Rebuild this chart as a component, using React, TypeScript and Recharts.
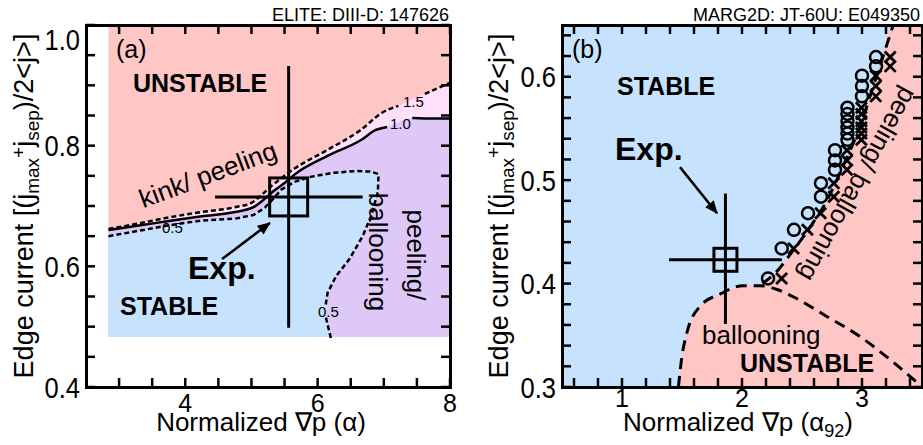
import React from 'react';
import {
  ComposedChart, Area, Line, Scatter, XAxis, YAxis, ErrorBar, ReferenceLine,
} from 'recharts';

const FONT = '"Liberation Sans", Arial, Helvetica, sans-serif';

// ---------- panel (a): ELITE, DIII-D 147626 ----------
const aXTicks = [3, 3.5, 4, 4.5, 5, 5.5, 6, 6.5, 7, 7.5, 8];
const aXLabels = [4, 6, 8];
const aYTicks = [0.4, 0.45, 0.5, 0.55, 0.6, 0.65, 0.7, 0.75, 0.8, 0.85, 0.9, 0.95, 1.0];
const aYLabels = [0.4, 0.6, 0.8, 1.0];

const aFloor = 0.483;
const aEdgeX = [2.84, 8.0];
const aEdgeTop = [1.0, 1.0];

// growth-rate contour 1.5 (dashed)
const c15X = [2.84, 3.25, 3.75, 4.25, 4.75, 5.0, 5.15, 5.3, 5.45, 5.65, 6.15, 6.65, 6.98, 7.22, 7.62, 8.0];
const c15Y = [0.662, 0.67, 0.681, 0.69, 0.698, 0.705, 0.718, 0.733, 0.746, 0.762, 0.793, 0.826, 0.855, 0.866, 0.886, 0.904];
const c15Gap = [7.22, 7.62];

// contour 1.0 (solid)
const c10X = [2.84, 3.25, 3.75, 4.25, 4.75, 5.03, 5.2, 5.35, 5.5, 5.65, 6.15, 6.65, 6.88, 7.05, 7.43, 7.75, 8.0];
const c10Y = [0.66, 0.667, 0.675, 0.683, 0.69, 0.698, 0.712, 0.726, 0.738, 0.752, 0.783, 0.809, 0.826, 0.831, 0.846, 0.845, 0.845];
const c10Gap = [7.05, 7.43];

// contour 0.5 (dashed) = stable boundary
const c05X = [2.84, 3.25, 3.75, 4.25, 4.75, 5.03, 5.2, 5.33, 5.45, 5.65, 5.88, 6.23, 6.58, 6.8, 6.92, 6.91, 6.81, 6.68, 6.48, 6.28, 6.15, 6.12, 6.125, 6.2];
const c05Y = [0.65, 0.658, 0.668, 0.676, 0.679, 0.685, 0.697, 0.712, 0.727, 0.74, 0.748, 0.755, 0.758, 0.757, 0.753, 0.723, 0.684, 0.65, 0.612, 0.584, 0.556, 0.535, 0.515, 0.481];
const c05Break = 22;

// stable region (blue)
const blueX = [2.84, 3.25, 3.75, 4.25, 4.75, 5.03, 5.2, 5.33, 5.45, 5.65, 5.88, 6.12, 6.15, 6.28, 6.48, 6.68, 6.81, 6.91, 6.925];
const blueHigh = [0.65, 0.658, 0.668, 0.676, 0.679, 0.685, 0.697, 0.712, 0.727, 0.74, 0.748, 0.753, 0.753, 0.755, 0.757, 0.758, 0.757, 0.754, 0.752];
const blueLow = [0.483, 0.483, 0.483, 0.483, 0.483, 0.483, 0.483, 0.483, 0.483, 0.483, 0.483, 0.483, 0.556, 0.584, 0.612, 0.65, 0.684, 0.723, 0.75];
// small stable sliver at the foot of the 0.5 contour
const sliverX = [6.12, 6.125, 6.2];
const sliverHigh = [0.535, 0.515, 0.483];

const expA = [{ x: 5.562, y: 0.715, ex: [1.112, 1.118], ey: [0.217, 0.217] }];
const arrowA = [{ x: 4.556, y: 0.612 }, { x: 5.278, y: 0.672 }];

// ---------- panel (b): MARG2D, JT-60U E049350 ----------
const bXTicks = [0.6, 0.8, 1, 1.2, 1.4, 1.6, 1.8, 2, 2.2, 2.4, 2.6, 2.8, 3, 3.2, 3.4];
const bXLabels = [1, 2, 3];
const bYTicks = [0.3, 0.32, 0.34, 0.36, 0.38, 0.4, 0.42, 0.44, 0.46, 0.48, 0.5, 0.52, 0.54, 0.56, 0.58, 0.6, 0.62, 0.64];
const bYLabels = [0.3, 0.4, 0.5, 0.6];

const bBgX = [0.5, 3.5];
const bBgTop = [0.65, 0.65];

const pinkX = [1.47, 1.5, 1.54, 1.65, 1.82, 2.01, 2.15, 2.3, 2.4, 2.57, 2.71, 2.84, 2.98, 3.12, 3.26, 3.5];
const pinkY = [0.3, 0.33, 0.352, 0.378, 0.39, 0.398, 0.399, 0.413, 0.428, 0.455, 0.481, 0.513, 0.551, 0.6, 0.65, 0.65];

const domeX = [1.47, 1.5, 1.54, 1.65, 1.82, 2.01, 2.15, 2.3, 2.43, 2.71, 2.98, 3.26, 3.5];
const domeY = [0.3, 0.33, 0.352, 0.378, 0.39, 0.398, 0.398, 0.394, 0.387, 0.368, 0.349, 0.324, 0.3];

const riseX = [2.17, 2.3, 2.4, 2.57, 2.71, 2.84, 2.98, 3.12, 3.26];
const riseY = [0.4, 0.413, 0.428, 0.455, 0.481, 0.513, 0.551, 0.6, 0.65];

const stableX = [2.217, 2.331, 2.433, 2.55, 2.658, 2.658, 2.775, 2.775, 2.775, 2.879, 2.879, 2.879, 2.879, 2.879, 2.879, 3.0, 3.0, 3.0, 3.117, 3.117];
const stableY = [0.405, 0.434, 0.452, 0.468, 0.484, 0.497, 0.51, 0.519, 0.529, 0.539, 0.545, 0.551, 0.557, 0.564, 0.57, 0.581, 0.591, 0.601, 0.61, 0.619];
const unstableX = [2.33, 2.43, 2.545, 2.655, 2.765, 2.765, 2.875, 2.875, 2.875, 2.995, 2.995, 2.995, 2.995, 2.995, 2.995, 3.115, 3.115, 3.115, 3.235, 3.235];
const unstableY = [0.405, 0.434, 0.452, 0.468, 0.484, 0.497, 0.51, 0.519, 0.529, 0.539, 0.545, 0.551, 0.557, 0.564, 0.57, 0.581, 0.591, 0.601, 0.61, 0.619];

const expB = [{ x: 1.862, y: 0.423, ex: [0.47, 0.47], ey: [0.062, 0.064] }];
const arrowB = [{ x: 1.483, y: 0.5126 }, { x: 1.792, y: 0.468 }];

// ---------- helpers ----------
const pts = (xs: number[], ys: number[]) => xs.map((x, i) => ({ x, y: ys[i] }));
const band = (xs: number[], lo: number[] | number, hi: number[]) =>
  xs.map((x, i) => ({ x, r: [typeof lo === 'number' ? lo : lo[i], hi[i]] }));
const near = (list: number[], v: number) => list.some((l) => Math.abs(l - v) < 1e-9);

const PINK = '#FFC6C6';
const LIGHT_PINK = '#FFE0FA';
const PURPLE = '#DEC8F8';
const BLUE = '#C6E2FC';

function xTick(labels: number[], plotH: number, labelDy: number) {
  return (props: any) => {
    const { x, y, payload } = props;
    const v = payload.value;
    return (
      <g>
        <line x1={x} x2={x} y1={y} y2={y - 9} stroke="#000" strokeWidth={2.5} />
        <line x1={x} x2={x} y1={y - plotH} y2={y - plotH + 9} stroke="#000" strokeWidth={2.5} />
        {near(labels, v) && (
          <text x={x} y={y + labelDy} textAnchor="middle" fontSize={25} fontFamily={FONT} fill="#000">
            {String(v)}
          </text>
        )}
      </g>
    );
  };
}

function yTick(labels: number[], plotW: number, topLabel: number) {
  return (props: any) => {
    const { x, y, payload } = props;
    const v = payload.value;
    const shift = Math.abs(v - topLabel) < 1e-9 ? 14 : 0;
    return (
      <g>
        <line x1={x} x2={x + 9} y1={y} y2={y} stroke="#000" strokeWidth={2.5} />
        <line x1={x + plotW - 9} x2={x + plotW} y1={y} y2={y} stroke="#000" strokeWidth={2.5} />
        {near(labels, v) && (
          <text
            transform={`translate(${x - 6},${y + shift + 10.5}) scale(0.85,1)`}
            textAnchor="end" fontSize={30} fontFamily={FONT} fill="#000"
          >
            {v.toFixed(1)}
          </text>
        )}
      </g>
    );
  };
}

const squareShape = (size: number) => (props: any) => (
  <rect x={props.cx - size / 2} y={props.cy - size / 2} width={size} height={size}
    fill="none" stroke="#000" strokeWidth={3} />
);
const circleShape = (props: any) => (
  <circle cx={props.cx} cy={props.cy} r={6} fill="none" stroke="#000" strokeWidth={2.5} />
);
const crossShape = (props: any) => (
  <path d={`M${props.cx - 5.5},${props.cy - 5.5}L${props.cx + 5.5},${props.cy + 5.5}M${props.cx - 5.5},${props.cy + 5.5}L${props.cx + 5.5},${props.cy - 5.5}`}
    stroke="#000" strokeWidth={2.8} fill="none" />
);

function PanelA() {
  const c15 = pts(c15X, c15Y);
  const c10 = pts(c10X, c10Y);
  const c05 = pts(c05X, c05Y);
  return (
    <ComposedChart width={460} height={445} margin={{ top: 25, right: 10, bottom: 0, left: 0 }}>
      <Area data={band(aEdgeX, aFloor, aEdgeTop)} dataKey="r" type="linear" fill={PINK} fillOpacity={1} stroke="none" isAnimationActive={false} />
      <Area data={band(c15X, aFloor, c15Y)} dataKey="r" type="monotone" fill={LIGHT_PINK} fillOpacity={1} stroke="none" isAnimationActive={false} />
      <Area data={band(c10X, aFloor, c10Y)} dataKey="r" type="monotone" fill={PURPLE} fillOpacity={1} stroke="none" isAnimationActive={false} />
      <Area data={band(blueX, blueLow, blueHigh)} dataKey="r" type="linear" fill={BLUE} fillOpacity={1} stroke="none" isAnimationActive={false} />
      <Area data={band(sliverX, aFloor, sliverHigh)} dataKey="r" type="linear" fill={BLUE} fillOpacity={1} stroke="none" isAnimationActive={false} />
      <Line data={c15.filter((p) => p.x <= c15Gap[0])} dataKey="y" type="monotone" stroke="#000" strokeWidth={2.5} strokeDasharray="5 3" dot={false} isAnimationActive={false} />
      <Line data={c15.filter((p) => p.x >= c15Gap[1])} dataKey="y" type="monotone" stroke="#000" strokeWidth={2.5} strokeDasharray="5 3" dot={false} isAnimationActive={false} />
      <Line data={c10.filter((p) => p.x <= c10Gap[0])} dataKey="y" type="monotone" stroke="#000" strokeWidth={2.5} dot={false} isAnimationActive={false} />
      <Line data={c10.filter((p) => p.x >= c10Gap[1])} dataKey="y" type="monotone" stroke="#000" strokeWidth={2.5} dot={false} isAnimationActive={false} />
      <Line data={c05.slice(0, c05Break)} dataKey="y" type="linear" stroke="#000" strokeWidth={2.5} strokeDasharray="5 3" dot={false} isAnimationActive={false} />
      <Line data={c05.slice(c05Break)} dataKey="y" type="linear" stroke="#000" strokeWidth={2.5} strokeDasharray="5 3" dot={false} isAnimationActive={false} />
      <Scatter data={expA} dataKey="y" shape={squareShape(38)} isAnimationActive={false}>
        <ErrorBar dataKey="ex" direction="x" width={0} stroke="#000" strokeWidth={3} isAnimationActive={false} />
        <ErrorBar dataKey="ey" direction="y" width={0} stroke="#000" strokeWidth={3} isAnimationActive={false} />
      </Scatter>
      <XAxis dataKey="x" type="number" domain={[2.5, 8]} ticks={aXTicks} interval={0}
        height={58} tickSize={0} tickMargin={0} tickLine={false} axisLine={false}
        tick={xTick(aXLabels, 362, 25)} allowDataOverflow />
      <YAxis dataKey="y" type="number" domain={[0.4, 1.0]} ticks={aYTicks} interval={0}
        width={86} tickSize={0} tickMargin={0} tickLine={false} axisLine={false}
        tick={yTick(aYLabels, 364, 1.0)} allowDataOverflow />
      <ReferenceLine segment={arrowA} stroke="#000" strokeWidth={2.5} markerEnd="url(#arrowHead)" ifOverflow="visible" />
    </ComposedChart>
  );
}

function PanelB() {
  return (
    <ComposedChart width={463} height={445} margin={{ top: 25, right: 1, bottom: 0, left: 0 }}>
      <Area data={band(bBgX, 0.3, bBgTop)} dataKey="r" type="linear" fill={BLUE} fillOpacity={1} stroke="none" isAnimationActive={false} />
      <Area data={band(pinkX, 0.3, pinkY)} dataKey="r" type="monotone" fill={PINK} fillOpacity={1} stroke="none" isAnimationActive={false} />
      <Line data={pts(domeX, domeY)} dataKey="y" type="monotone" stroke="#000" strokeWidth={3} strokeDasharray="11 7" dot={false} isAnimationActive={false} />
      <Line data={pts(riseX, riseY)} dataKey="y" type="monotone" stroke="#000" strokeWidth={3} strokeDasharray="11 7" dot={false} isAnimationActive={false} />
      <Scatter data={pts(stableX, stableY)} dataKey="y" shape={circleShape} isAnimationActive={false} />
      <Scatter data={pts(unstableX, unstableY)} dataKey="y" shape={crossShape} isAnimationActive={false} />
      <Scatter data={expB} dataKey="y" shape={squareShape(23)} isAnimationActive={false}>
        <ErrorBar dataKey="ex" direction="x" width={0} stroke="#000" strokeWidth={3} isAnimationActive={false} />
        <ErrorBar dataKey="ey" direction="y" width={0} stroke="#000" strokeWidth={3} isAnimationActive={false} />
      </Scatter>
      <XAxis dataKey="x" type="number" domain={[0.5, 3.5]} ticks={bXTicks} interval={0}
        height={58} tickSize={0} tickMargin={0} tickLine={false} axisLine={false}
        tick={xTick(bXLabels, 362, 20)} allowDataOverflow />
      <YAxis dataKey="y" type="number" domain={[0.3, 0.65]} ticks={bYTicks} interval={0}
        width={102} tickSize={0} tickMargin={0} tickLine={false} axisLine={false}
        tick={yTick(bYLabels, 360, 99)} allowDataOverflow />
      <ReferenceLine segment={arrowB} stroke="#000" strokeWidth={2.5} markerEnd="url(#arrowHead)" ifOverflow="visible" />
    </ComposedChart>
  );
}

const frame = (left: number, width: number): React.CSSProperties => ({
  position: 'absolute', left, top: 23.5, width, height: 365,
  border: '3px solid #000', boxSizing: 'border-box', pointerEvents: 'none',
});

const T = (p: any) => <text fontFamily={FONT} fill="#000" {...p} />;

export default function App() {
  return (
    <div style={{ position: 'absolute', left: 0, top: 0, width: 923, height: 445, overflow: 'hidden', background: '#fff' }}>
      <div style={{ position: 'absolute', left: 0, top: 0 }}><PanelA /></div>
      <div style={{ position: 'absolute', left: 460, top: 0 }}><PanelB /></div>
      <div style={frame(84.5, 367)} />
      <div style={frame(560.5, 363)} />
      <svg width={923} height={445} style={{ position: 'absolute', left: 0, top: 0, pointerEvents: 'none' }}>
        <defs>
          <marker id="arrowHead" viewBox="0 0 12 10" refX="11" refY="5" markerWidth="5.5" markerHeight="4.4" orient="auto">
            <path d="M0,0 L12,5 L0,10 z" fill="#000" />
          </marker>
        </defs>
        {/* panel (a) */}
        <T x={449} y={21} fontSize={18} textAnchor="end">ELITE: DIII-D: 147626</T>
        <T x={116} y={58} fontSize={25}>(a)</T>
        <T x={133} y={92} fontSize={25} fontWeight="bold">UNSTABLE</T>
        <T transform="translate(211,183) rotate(-20.5)" fontSize={26} textAnchor="middle">kink/ peeling</T>
        <T x={188} y={279} fontSize={32} fontWeight="bold">Exp.</T>
        <T x={120} y={315} fontSize={25} fontWeight="bold">STABLE</T>
        <T transform="translate(407,255) rotate(90)" fontSize={26} textAnchor="middle">peeling/</T>
        <T transform="translate(369,252) rotate(90)" fontSize={26} textAnchor="middle">ballooning</T>
        <T x={162} y={233} fontSize={15}>0.5</T>
        <T x={318} y={317} fontSize={15}>0.5</T>
        <T x={403} y={107} fontSize={15}>1.5</T>
        <T x={390} y={129} fontSize={15}>1.0</T>
        <T x={261} y={431} fontSize={26} textAnchor="middle">Normalized ∇p (α)</T>
        <T transform="translate(33,206) rotate(-90)" fontSize={27} textAnchor="middle">
          Edge current [(j<tspan dy={6} fontSize={19}>max</tspan><tspan dy={-14} fontSize={19}>+</tspan><tspan dy={8}>j</tspan><tspan dy={6} fontSize={19}>sep</tspan><tspan dy={-6}>)/2&lt;j&gt;]</tspan>
        </T>
        {/* panel (b) */}
        <T x={920} y={21} fontSize={18} textAnchor="end">MARG2D: JT-60U: E049350</T>
        <T x={572} y={58} fontSize={25}>(b)</T>
        <T x={617} y={95} fontSize={25} fontWeight="bold">STABLE</T>
        <T x={615} y={160} fontSize={32} fontWeight="bold">Exp.</T>
        <T x={702} y={344} fontSize={26}>ballooning</T>
        <T x={740} y={372} fontSize={25} fontWeight="bold">UNSTABLE</T>
        <T transform="translate(850,180) rotate(119)" fontSize={26} textAnchor="middle">peeling/ ballooning</T>
        <T x={738} y={431} fontSize={26} textAnchor="middle">Normalized ∇p (α<tspan dy={6} fontSize={18}>92</tspan><tspan dy={-6}>)</tspan></T>
        <T transform="translate(508,206) rotate(-90)" fontSize={27} textAnchor="middle">
          Edge current [(j<tspan dy={6} fontSize={19}>max</tspan><tspan dy={-14} fontSize={19}>+</tspan><tspan dy={8}>j</tspan><tspan dy={6} fontSize={19}>sep</tspan><tspan dy={-6}>)/2&lt;j&gt;]</tspan>
        </T>
      </svg>
    </div>
  );
}
